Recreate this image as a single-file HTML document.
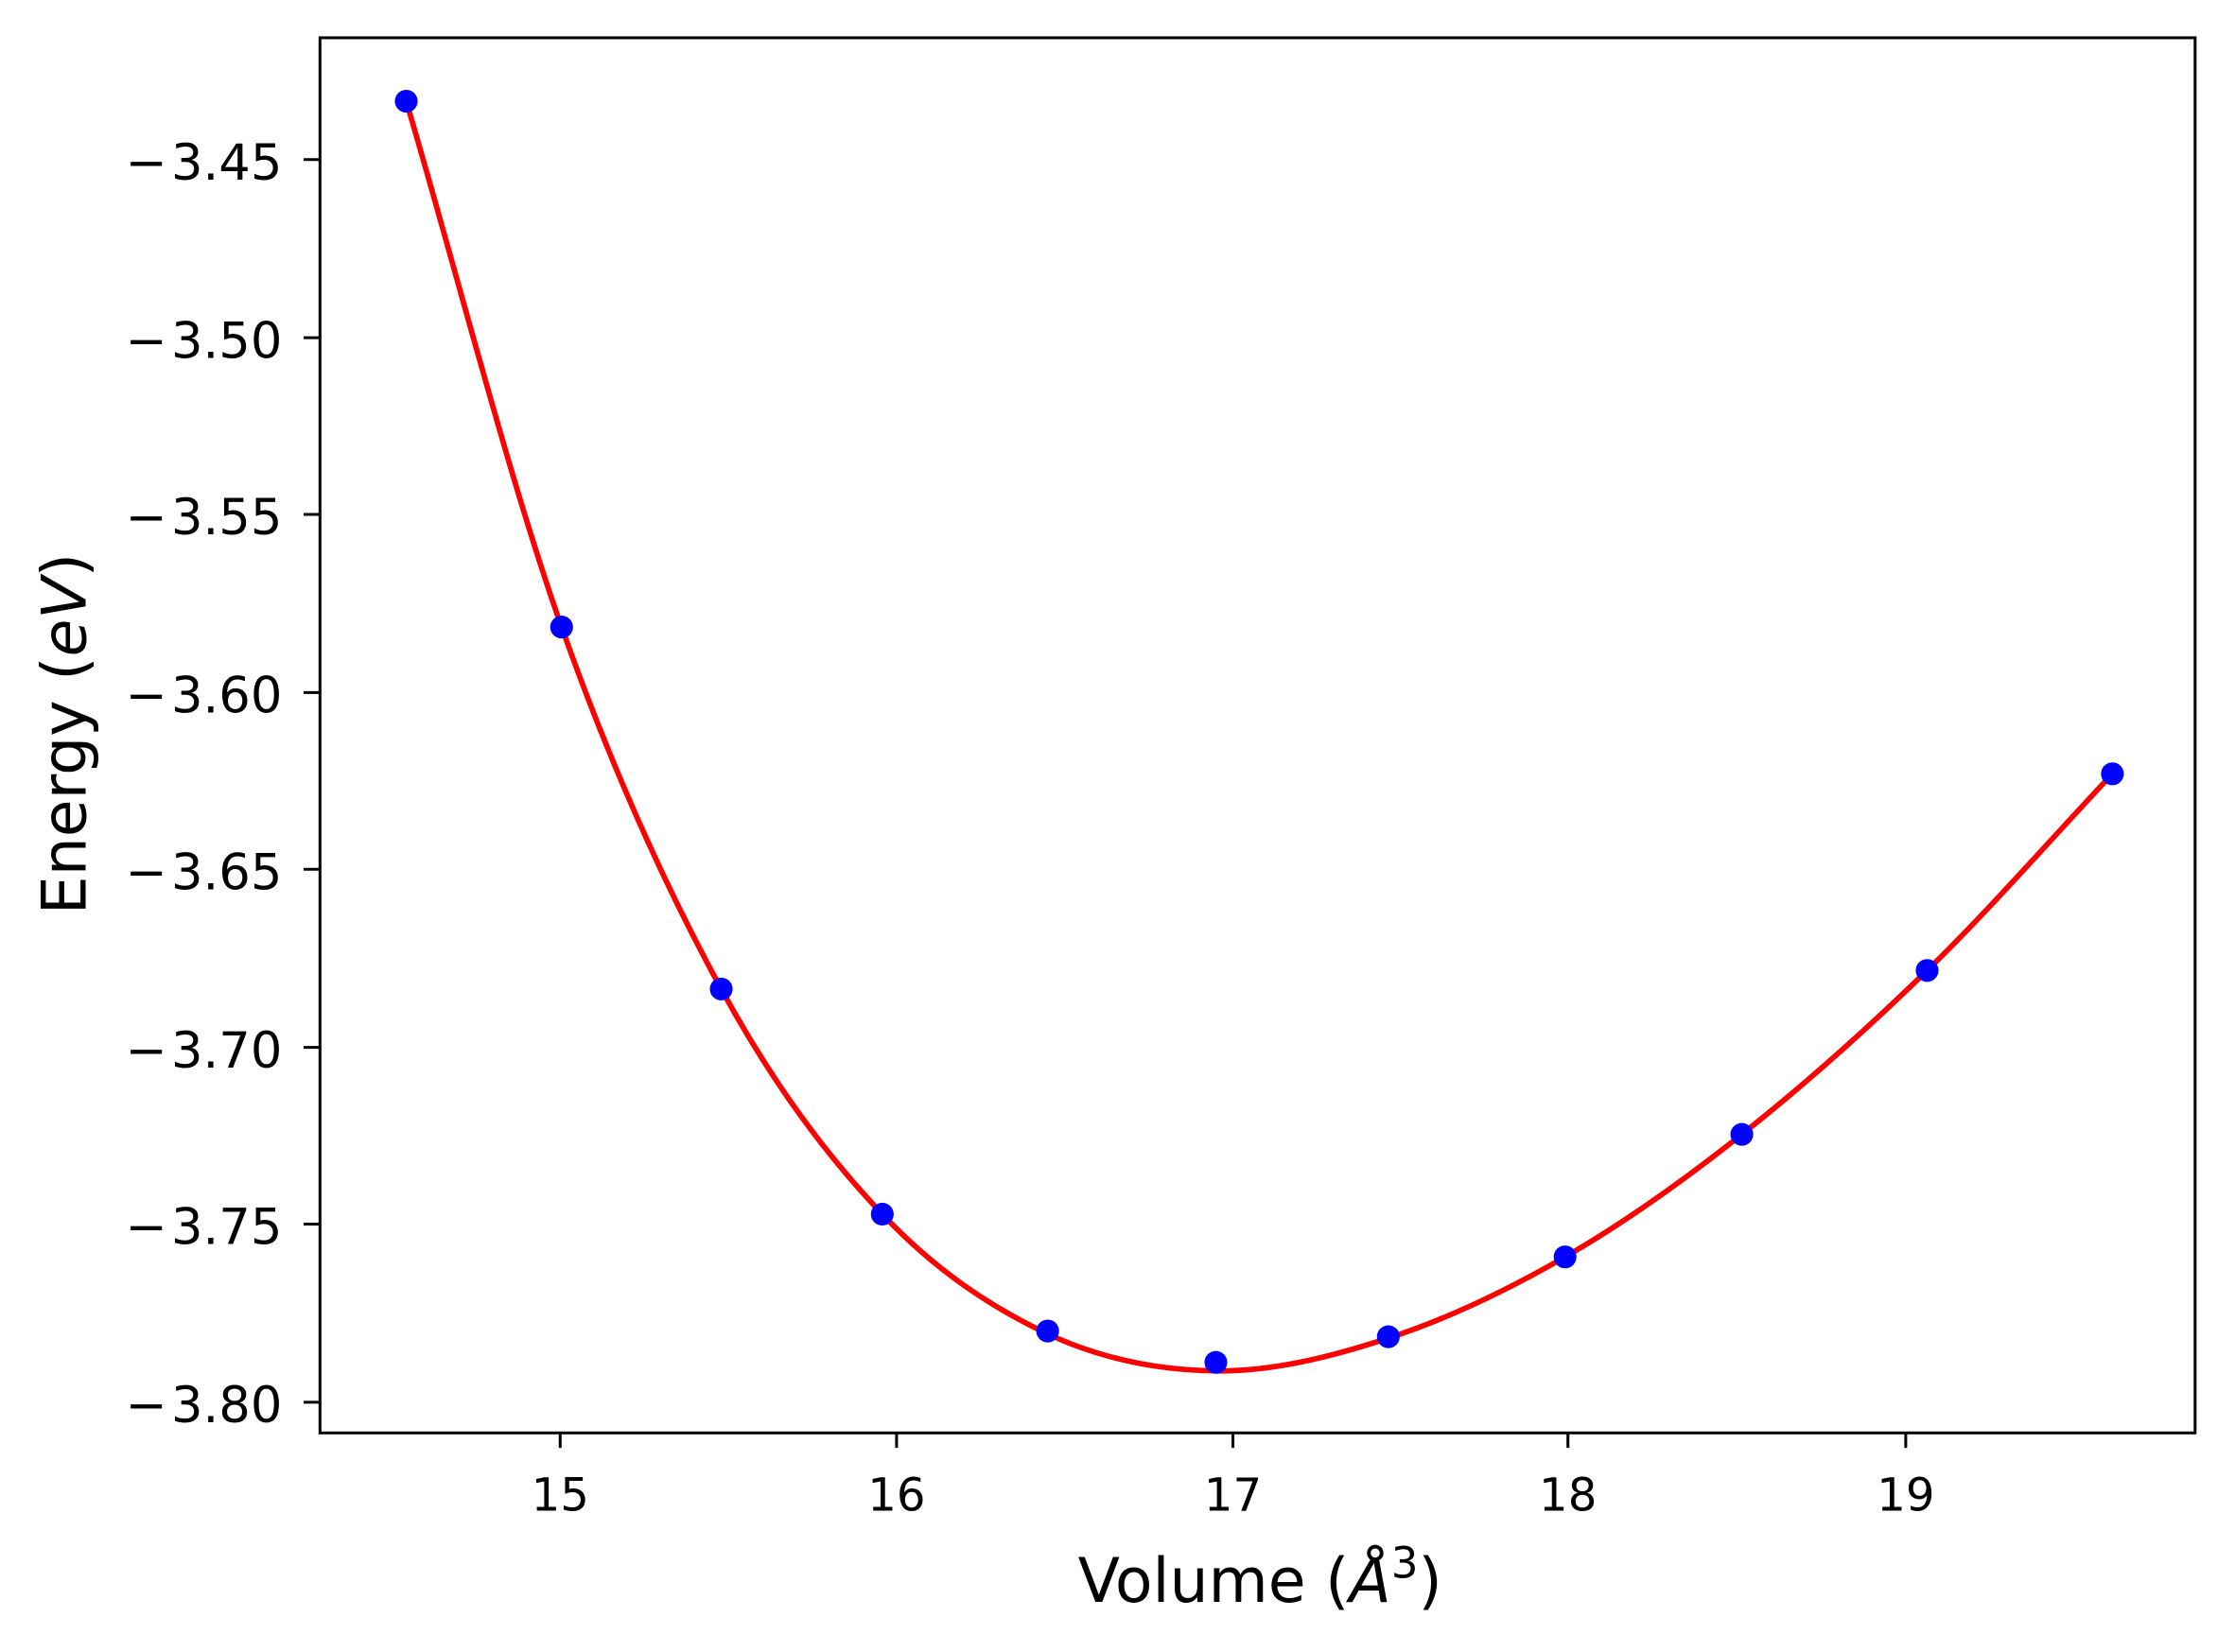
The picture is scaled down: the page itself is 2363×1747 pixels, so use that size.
<!DOCTYPE html>
<html><head><meta charset="utf-8"><style>
html,body{margin:0;padding:0;background:#fff;}
svg{display:block;}
text{font-family:"DejaVu Sans","Liberation Sans",sans-serif;fill:#000;}
</style></head><body>
<svg width="2363" height="1747" viewBox="0 0 1568 1159.24" xmlns="http://www.w3.org/2000/svg">
<rect x="0" y="0" width="1568" height="1160" fill="#fff"/>
<path d="M285,71 C321.3,194 357.2,336.2 394,440 C430.8,543.8 468.5,625.3 506,694 C543.5,762.7 580.8,811.7 619,852 C657.2,892.3 696,917.7 735,936 C774,954.3 813.2,961.5 853,962 C892.8,962.5 933.2,952.3 974,939 C1014.8,925.7 1056.7,905.8 1098,882 C1139.3,858.2 1179.7,829.5 1222,796 C1264.3,762.5 1308.7,723.2 1352,681 C1395.3,638.8 1438.7,589 1482,543" fill="none" stroke="#ff0000" stroke-width="3.8"/>
<g fill="#0000ff">
<circle cx="285" cy="71" r="8"/>
<circle cx="394" cy="440" r="8"/>
<circle cx="506" cy="694" r="8"/>
<circle cx="619" cy="852" r="8"/>
<circle cx="735" cy="934" r="8"/>
<circle cx="853" cy="956" r="8"/>
<circle cx="974" cy="938" r="8"/>
<circle cx="1098" cy="882" r="8"/>
<circle cx="1222" cy="796" r="8"/>
<circle cx="1352" cy="681" r="8"/>
<circle cx="1482" cy="543" r="8"/>
</g>
<rect x="224.5" y="26.5" width="1315.5" height="979" fill="none" stroke="#000" stroke-width="2"/>
<g stroke="#000" stroke-width="2">
<line x1="393" y1="1006" x2="393" y2="1016"/>
<line x1="629" y1="1006" x2="629" y2="1016"/>
<line x1="865" y1="1006" x2="865" y2="1016"/>
<line x1="1100" y1="1006" x2="1100" y2="1016"/>
<line x1="1337" y1="1006" x2="1337" y2="1016"/>
<line x1="213" y1="112" x2="224" y2="112"/>
<line x1="213" y1="237" x2="224" y2="237"/>
<line x1="213" y1="361" x2="224" y2="361"/>
<line x1="213" y1="486" x2="224" y2="486"/>
<line x1="213" y1="610" x2="224" y2="610"/>
<line x1="213" y1="735" x2="224" y2="735"/>
<line x1="213" y1="859" x2="224" y2="859"/>
<line x1="213" y1="984" x2="224" y2="984"/>
</g>
<g font-size="32" text-anchor="middle">
<text x="393" y="1060">15</text>
<text x="629" y="1060">16</text>
<text x="865" y="1060">17</text>
<text x="1100" y="1060">18</text>
<text x="1337" y="1060">19</text>
</g>
<g font-size="35">
<text x="88" y="126">−</text><text x="198" y="126" text-anchor="end">3.45</text>
<text x="88" y="251">−</text><text x="198" y="251" text-anchor="end">3.50</text>
<text x="88" y="375">−</text><text x="198" y="375" text-anchor="end">3.55</text>
<text x="88" y="500">−</text><text x="198" y="500" text-anchor="end">3.60</text>
<text x="88" y="624">−</text><text x="198" y="624" text-anchor="end">3.65</text>
<text x="88" y="749">−</text><text x="198" y="749" text-anchor="end">3.70</text>
<text x="88" y="873">−</text><text x="198" y="873" text-anchor="end">3.75</text>
<text x="88" y="998">−</text><text x="198" y="998" text-anchor="end">3.80</text>
</g>
<text x="884" y="1124" font-size="43" text-anchor="middle">Volume (<tspan font-style="italic">Å</tspan><tspan font-size="30" dy="-17">3</tspan><tspan dy="17">)</tspan></text>
<text transform="translate(60,515) rotate(-90)" font-size="43" text-anchor="middle">Energy (<tspan font-style="italic">eV</tspan>)</text>
</svg>
</body></html>
